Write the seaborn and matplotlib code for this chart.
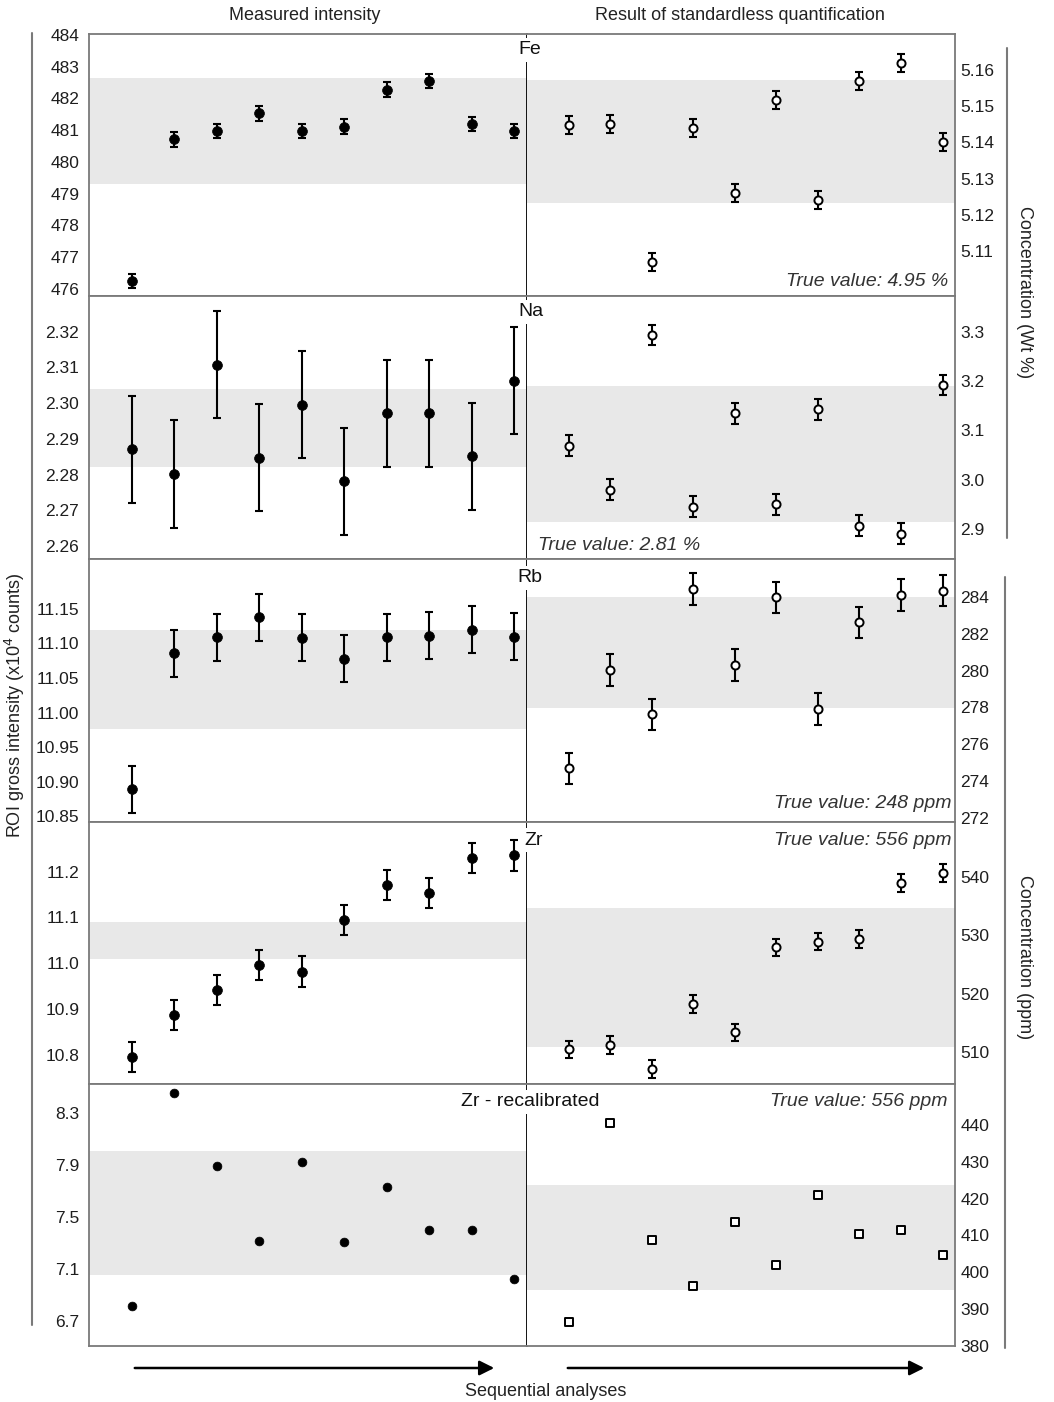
import matplotlib
matplotlib.use('Agg')
import matplotlib.pyplot as plt
import seaborn as sns
import pandas as pd
from matplotlib.lines import Line2D
from matplotlib.patches import FancyArrowPatch

sns.set_theme(style='white')
plt.rcParams['font.family'] = ['Liberation Sans', 'DejaVu Sans']

# ---------------- data ----------------
analysis = list(range(1, 11))
elements = ['Fe', 'Na', 'Rb', 'Zr', 'Zr - recalibrated']
true_values = ['True value: 4.95 %', 'True value: 2.81 %', 'True value: 248 ppm',
               'True value: 556 ppm', 'True value: 556 ppm']

fe_intensity = [476.25, 480.71, 480.98, 481.53, 480.98, 481.11, 482.28, 482.55, 481.19, 480.98]
fe_conc = [5.1448, 5.1451, 5.1070, 5.1439, 5.1260, 5.1517, 5.1240, 5.1570, 5.1620, 5.1402]
na_intensity = [2.2871, 2.2802, 2.3108, 2.2847, 2.2996, 2.2781, 2.2972, 2.2972, 2.2851, 2.3063]
na_conc = [3.069, 2.980, 3.293, 2.946, 3.135, 2.951, 3.143, 2.907, 2.891, 3.192]
rb_intensity = [10.889, 11.086, 11.109, 11.138, 11.108, 11.078, 11.109, 11.111, 11.120, 11.110]
rb_conc = [274.71, 280.03, 277.63, 284.42, 280.30, 283.97, 277.92, 282.61, 284.09, 284.32]
zr_intensity = [10.796, 10.887, 10.942, 10.996, 10.982, 11.095, 11.171, 11.153, 11.229, 11.235]
zr_conc = [510.5, 511.3, 507.2, 518.2, 513.4, 527.9, 528.9, 529.3, 538.9, 540.6]
zrr_intensity = [6.813, 8.454, 7.893, 7.312, 7.922, 7.310, 7.731, 7.402, 7.402, 7.021]
zrr_conc = [386.5, 440.4, 408.9, 396.4, 413.6, 401.9, 421.1, 410.5, 411.4, 404.8]

intensity_err = [0.23, 0.015, 0.034, 0.033, 0.0]
conc_err = [0.0025, 0.021, 0.85, 1.5, 0.0]

intensity_band = [(479.30, 482.64), (2.2822, 2.3039), (10.977, 11.120), (11.009, 11.090), (7.052, 8.009)]
conc_band = [(5.1233, 5.1574), (2.915, 3.189), (277.96, 283.97), (510.9, 534.6), (395.2, 423.8)]

intensity_lim = [(475.78, 484.03), (2.2564, 2.330), (10.842, 11.222), (10.737, 11.308), (6.505, 8.526)]
conc_lim = [(5.0975, 5.170), (2.840, 3.372), (271.8, 286.04), (504.6, 549.3), (380.0, 451.1)]

intensity_ticks = [[476, 477, 478, 479, 480, 481, 482, 483, 484],
                   [2.26, 2.27, 2.28, 2.29, 2.30, 2.31, 2.32],
                   [10.85, 10.90, 10.95, 11.00, 11.05, 11.10, 11.15],
                   [10.8, 10.9, 11.0, 11.1, 11.2],
                   [6.7, 7.1, 7.5, 7.9, 8.3]]
intensity_fmt = ['{:.0f}', '{:.2f}', '{:.2f}', '{:.1f}', '{:.1f}']
conc_ticks = [[5.11, 5.12, 5.13, 5.14, 5.15, 5.16],
              [2.9, 3.0, 3.1, 3.2, 3.3],
              [272, 274, 276, 278, 280, 282, 284],
              [510, 520, 530, 540],
              [380, 390, 400, 410, 420, 430, 440]]
conc_fmt = ['{:.2f}', '{:.1f}', '{:.0f}', '{:.0f}', '{:.0f}']

intensities = [fe_intensity, na_intensity, rb_intensity, zr_intensity, zrr_intensity]
concs = [fe_conc, na_conc, rb_conc, zr_conc, zrr_conc]

# ---------------- layout ----------------
W, H = 1054, 1402
fig = plt.figure(figsize=(W / 100, H / 100), dpi=100)

def fx(x):
    return x / W

def fy(y):
    return 1 - y / H

row_edges = [34, 296, 559, 822, 1084, 1346]
xl0, xdiv, xr1 = 89, 527, 955
border = '#7a7a7a'
band_col = '#e8e8e8'
tick_col = '#1e1e1e'
XLIM = (0, 10.3)

# true-value text placement: (x px, y px, ha)
tv_pos = [(948, 282, 'right'), (538, 545, 'left'), (952, 803, 'right'),
          (951, 840, 'right'), (948, 1102, 'right')]
label_pos = [(530, 50), (531, 312), (530, 578), (534, 840), (530, 1102)]

for i in range(5):
    top, bot = row_edges[i], row_edges[i + 1]
    b = fy(bot)
    h = (bot - top) / H
    axL = fig.add_axes([fx(xl0), b, (xdiv - xl0) / W, h])
    axR = fig.add_axes([fx(xdiv), b, (xr1 - xdiv) / W, h])

    dfL = pd.DataFrame({'analysis': analysis, 'value': intensities[i]})
    dfR = pd.DataFrame({'analysis': analysis, 'value': concs[i]})

    # bands
    axL.axhspan(*intensity_band[i], color=band_col, lw=0, zorder=0)
    axR.axhspan(*conc_band[i], color=band_col, lw=0, zorder=0)

    # error bars
    if intensity_err[i] > 0:
        axL.errorbar(dfL['analysis'], dfL['value'], yerr=intensity_err[i], fmt='none',
                     ecolor='black', elinewidth=1.5, capsize=2.6, capthick=1.5, zorder=2)
    if conc_err[i] > 0:
        axR.errorbar(dfR['analysis'], dfR['value'], yerr=conc_err[i], fmt='none',
                     ecolor='black', elinewidth=1.5, capsize=2.6, capthick=1.5, zorder=2)

    # markers
    if i < 4:
        sns.scatterplot(data=dfL, x='analysis', y='value', ax=axL, color='black',
                        edgecolor='black', s=50, marker='o', linewidth=0.5, zorder=3, legend=False)
        sns.scatterplot(data=dfR, x='analysis', y='value', ax=axR, color='white',
                        edgecolor='black', s=34, marker='o', linewidth=1.4, zorder=3, legend=False)
    else:
        sns.scatterplot(data=dfL, x='analysis', y='value', ax=axL, color='black',
                        edgecolor='black', s=40, marker='o', linewidth=0.5, zorder=3, legend=False)
        sns.scatterplot(data=dfR, x='analysis', y='value', ax=axR, color='white',
                        edgecolor='black', s=30, marker='s', linewidth=1.4, zorder=3, legend=False)

    for ax in (axL, axR):
        ax.set_xlim(*XLIM)
        ax.set_xticks([])
        ax.set_xlabel('')
        ax.set_ylabel('')
        ax.set_facecolor('white')
        for s in ax.spines.values():
            s.set_color(border)
            s.set_linewidth(1.3)
            s.set_visible(True)

    axL.set_ylim(*intensity_lim[i])
    axL.set_yticks(intensity_ticks[i])
    axL.set_yticklabels([intensity_fmt[i].format(t) for t in intensity_ticks[i]])
    axL.tick_params(axis='y', length=0, pad=7, labelsize=12.5, labelcolor=tick_col)
    axL.spines['right'].set_color('black')
    axL.spines['right'].set_linewidth(1.3)

    axR.set_ylim(*conc_lim[i])
    axR.yaxis.tick_right()
    axR.set_yticks(conc_ticks[i])
    axR.set_yticklabels([conc_fmt[i].format(t) for t in conc_ticks[i]])
    axR.tick_params(axis='y', length=0, pad=4, labelsize=12.5, labelcolor=tick_col)
    axR.spines['left'].set_visible(False)

    # element label straddling the divider
    lx, ly = label_pos[i]
    fig.text(fx(lx), fy(ly), elements[i], ha='center', va='center',
             fontsize=14, color='#111111', zorder=10,
             bbox=dict(boxstyle='square,pad=0.2', fc='white', ec='none'))

    tx, ty, ha = tv_pos[i]
    fig.text(fx(tx), fy(ty), true_values[i], ha=ha, va='center', fontsize=14,
             style='italic', color='#333333', zorder=10)

# column titles
fig.text(fx(305), fy(16), 'Measured intensity', ha='center', va='center', fontsize=13, color='#222222')
fig.text(fx(740), fy(16), 'Result of standardless quantification', ha='center', va='center',
         fontsize=13, color='#222222')

# outer axis-label lines and labels
fig.add_artist(Line2D([fx(32), fx(32)], [fy(33), fy(1325)], transform=fig.transFigure,
                      color=border, lw=1.5))
fig.text(fx(15), fy(705), 'ROI gross intensity (x10$^4$ counts)', rotation=90,
         ha='center', va='center', fontsize=13, color='#222222')

fig.add_artist(Line2D([fx(1007), fx(1007)], [fy(48), fy(538)], transform=fig.transFigure,
                      color=border, lw=1.5))
fig.text(fx(1025), fy(292), 'Concentration (Wt %)', rotation=270,
         ha='center', va='center', fontsize=13, color='#222222')

fig.add_artist(Line2D([fx(1005), fx(1005)], [fy(577), fy(1348)], transform=fig.transFigure,
                      color=border, lw=1.5))
fig.text(fx(1025), fy(957), 'Concentration (ppm)', rotation=270,
         ha='center', va='center', fontsize=13, color='#222222')

# arrows
for x0, x1 in [(132, 497), (565, 927)]:
    fig.add_artist(FancyArrowPatch((fx(x0), fy(1368)), (fx(x1), fy(1368)),
                                   transform=fig.transFigure, arrowstyle='-|>',
                                   mutation_scale=22, lw=1.8, color='black'))
fig.text(fx(546), fy(1391), 'Sequential analyses', ha='center', va='center',
         fontsize=13, color='#222222')

fig.savefig('out.png', dpi=100, facecolor='white')
